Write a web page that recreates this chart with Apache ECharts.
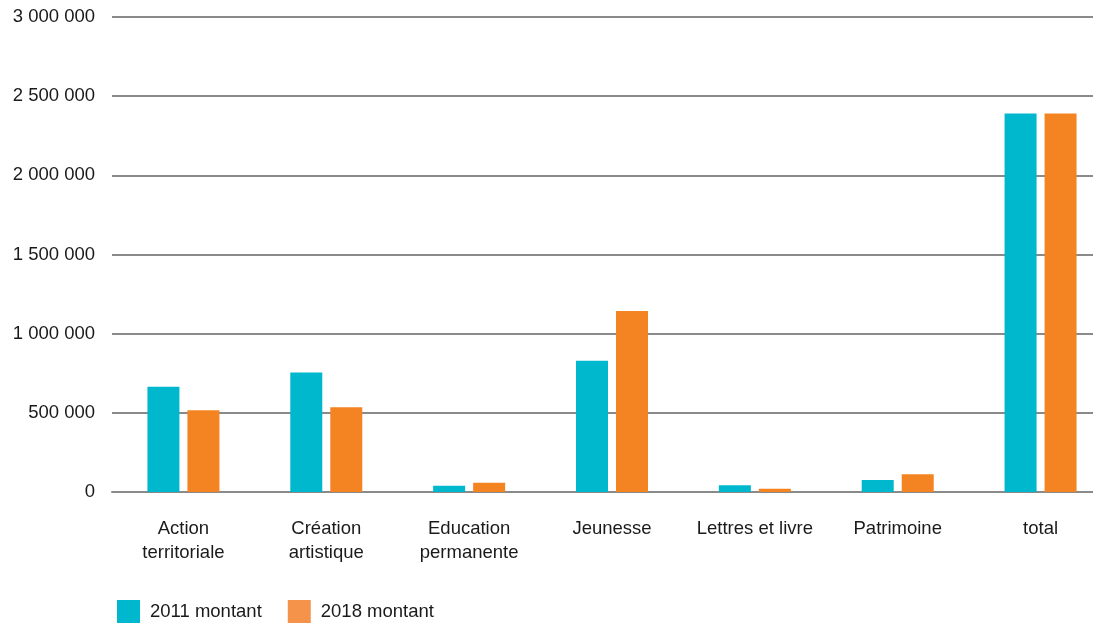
<!DOCTYPE html>
<html><head><meta charset="utf-8">
<script src="https://cdn.jsdelivr.net/npm/echarts@6/dist/echarts.min.js"></script>
<style>html,body{margin:0;padding:0;background:#fff}#c{width:1093px;height:624px}</style>
</head><body><div id="c"></div>
<script>
const categories = ['Action\nterritoriale','Création\nartistique','Education\npermanente','Jeunesse','Lettres et livre','Patrimoine','total'];
const seriesNames = ['2011 montant','2018 montant'];
const values2011 = [664000, 755000, 40000, 829000, 42000, 76000, 2390000];
const values2018 = [517000, 536000, 59000, 1143000, 21000, 112000, 2390000];
const yTicks = [0, 500000, 1000000, 1500000, 2000000, 2500000, 3000000];

const FONT = '"Liberation Sans", Arial, sans-serif';
const fmt = v => String(v).replace(/\B(?=(\d{3})+(?!\d))/g, ' ');
const chart = echarts.init(document.getElementById('c'));
chart.setOption({
  animation: false,
  textStyle: {fontFamily: FONT},
  grid: {left: 112, right: -19, top: 17, bottom: 132, containLabel: false, outerBoundsMode: 'none'},
  legend: {
    left: 117, top: 600, padding: 0, itemWidth: 23, itemHeight: 23, itemGap: 26,
    icon: 'rect',
    textStyle: {fontFamily: FONT, fontSize: 18.5, color: '#1a1a1a', lineHeight: 13, padding: [10,0,0,5]},
    data: [
      {name: seriesNames[0], itemStyle: {color: '#00B8CD'}},
      {name: seriesNames[1], itemStyle: {color: '#F6934A'}}
    ]
  },
  xAxis: {
    type: 'category', data: categories,
    axisLine: {show: true, lineStyle: {color: '#8a8a8a', width: 2}},
    axisTick: {show: false},
    axisLabel: {fontFamily: FONT, fontSize: 18.5, color: '#1a1a1a', lineHeight: 24, margin: 25, interval: 0}
  },
  yAxis: {
    type: 'value', min: yTicks[0], max: yTicks[yTicks.length-1], interval: 500000,
    axisLine: {show: false}, axisTick: {show: false},
    splitLine: {lineStyle: {color: '#8a8a8a', width: 2}},
    axisLabel: {fontFamily: FONT, fontSize: 18.5, color: '#1a1a1a', margin: 17, formatter: fmt}
  },
  series: [
    {name: seriesNames[0], type: 'bar', data: values2011, barWidth: 32, barGap: '25%', itemStyle: {color: '#00B8CD'}},
    {name: seriesNames[1], type: 'bar', data: values2018, barWidth: 32, barGap: '25%', itemStyle: {color: '#F48422'}}
  ]
});
</script></body></html>
